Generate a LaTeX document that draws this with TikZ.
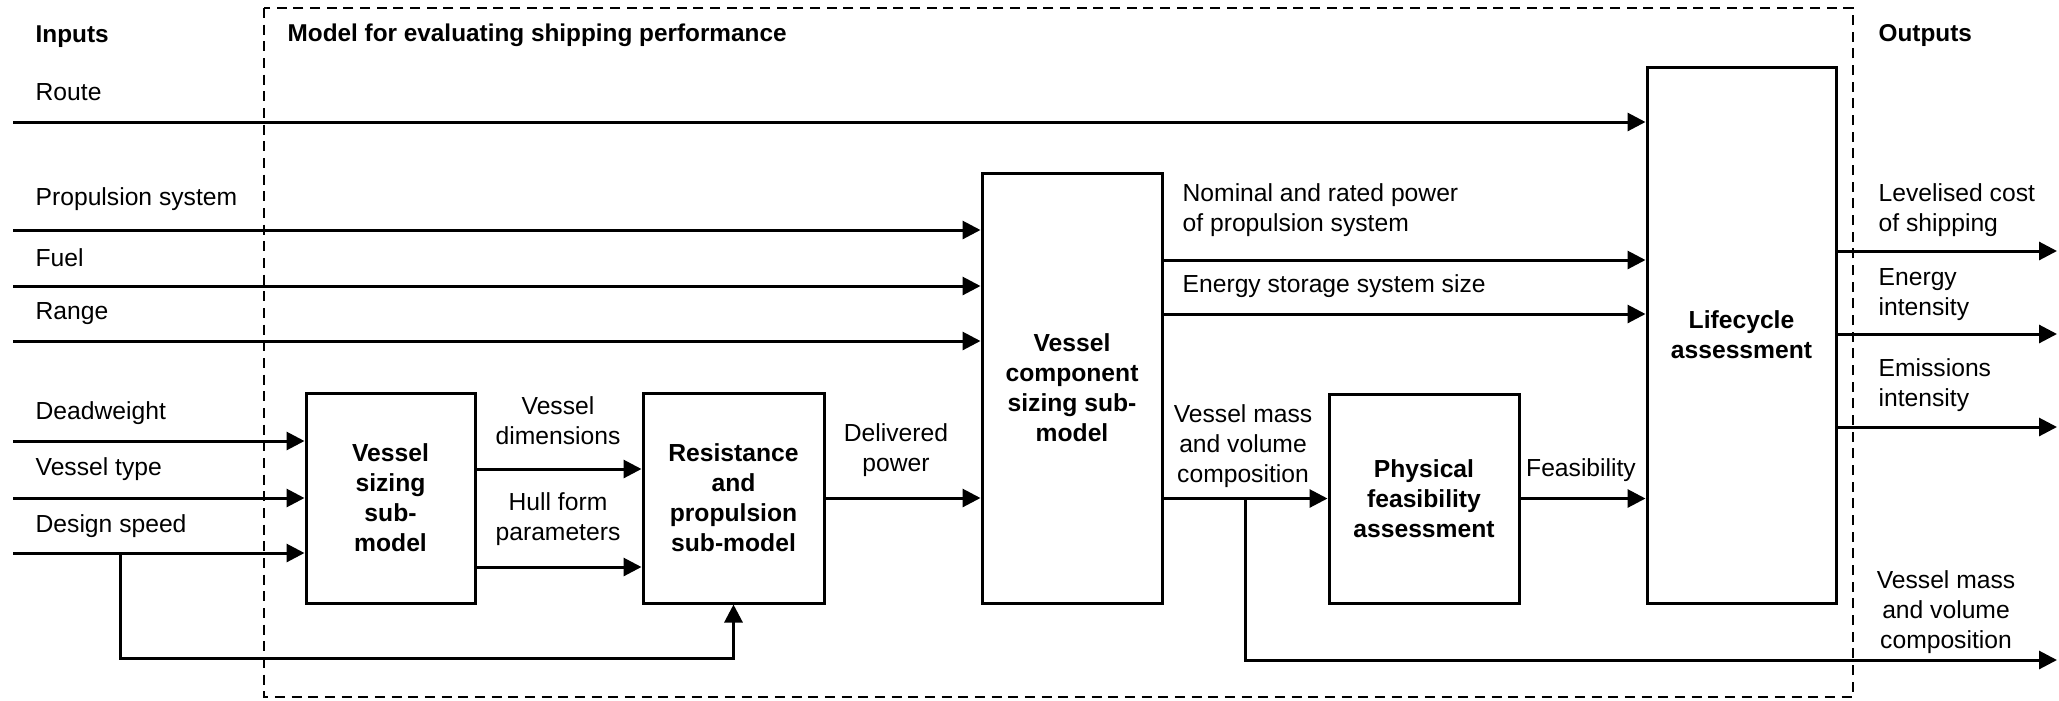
\documentclass[tikz,border=0pt]{standalone}
\usepackage{fontspec}
\setmainfont{Liberation Sans}
\usetikzlibrary{arrows.meta,positioning,calc}

\begin{document}
\begin{tikzpicture}[
    x=0.3pt, y=-0.3pt,
    every node/.style={inner sep=0pt, align=center, font=\fontsize{7.4}{9}\selectfont},
    block/.style={rectangle, draw, line width=0.9pt,
                  font=\fontsize{7.4}{9}\selectfont\bfseries},
    flow/.style={line width=0.9pt, -{Triangle[length=5.4pt,width=5.4pt]}},
    lbl/.style={anchor=west, align=left},
    head/.style={anchor=west, font=\fontsize{7.3}{9}\selectfont\bfseries}]
    \useasboundingbox (0,0) rectangle (2059,700);

    % model frame
    \draw[line width=0.85pt, dash pattern=on 3pt off 2pt] (264,8) rectangle (1853,697);
    \node[head] (inputs) at (35,37) {Inputs};
    \node[head] (modeltitle) at (287,35) {Model for evaluating shipping performance};
    \node[head] (outputs) at (1878,36) {Outputs};

    % blocks
    \node[block, minimum width=50.7pt, minimum height=63pt] (sizing) at (390.5,498) {Vessel\\sizing\\sub-\\model};
    \node[block, minimum width=54.3pt, minimum height=63pt] (resist) at (733.5,498) {Resistance\\and\\propulsion\\sub-model};
    \node[block, minimum width=54pt, minimum height=129pt] (comp) at (1072,388) {Vessel\\component\\sizing sub-\\model};
    \node[block, minimum width=57pt, minimum height=62.7pt] (phys) at (1424,498.5) {Physical\\feasibility\\assessment};
    \node[block, minimum width=56.7pt, minimum height=160.8pt] (life) at (1741.5,335) {Lifecycle\\assessment};

    % inputs
    \coordinate (routein) at (13,122);
    \coordinate (propin) at (13,230);
    \coordinate (fuelin) at (13,286);
    \coordinate (rangein) at (13,341);
    \coordinate (dwtin) at (13,441);
    \coordinate (typein) at (13,498);
    \coordinate (speedin) at (13,553);
    \node[lbl] (routelbl) at (35,92) {Route};
    \node[lbl] (proplbl) at (35,199) {Propulsion system};
    \node[lbl] (fuellbl) at (35,258) {Fuel};
    \node[lbl] (rangelbl) at (35,314) {Range};
    \node[lbl] (dwtlbl) at (35,413) {Deadweight};
    \node[lbl] (typelbl) at (35,469) {Vessel type};
    \node[lbl] (speedlbl) at (35,526) {Design speed};
    \draw[flow] (routein) -- (routein -| life.west);
    \draw[flow] (propin) -- (propin -| comp.west);
    \draw[flow] (fuelin) -- (fuelin -| comp.west);
    \draw[flow] (rangein) -- (rangein -| comp.west);
    \draw[flow] (dwtin) -- (dwtin -| sizing.west);
    \draw[flow] (typein) -- (typein -| sizing.west);
    \draw[flow] (speedin) -- (speedin -| sizing.west);
    \coordinate (tap) at (120,553);
    \draw[flow] (tap) -- (tap |- 0,658) -| (resist.south);

    % between blocks
    \draw[flow] ([yshift=8.7pt]sizing.east) -- ([yshift=8.7pt]resist.west);
    \draw[flow] ([yshift=-20.7pt]sizing.east) -- ([yshift=-20.7pt]resist.west);
    \node (dimslbl) at (558,421) {Vessel\\dimensions};
    \node (hulllbl) at (558,519) {Hull form\\parameters};
    \draw[flow] (resist.east) -- (resist.east -| comp.west);
    \node (powerlbl) at (896,450) {Delivered\\power};
    \draw[flow] (comp.east |- 0,260) -- (life.west |- 0,260);
    \draw[flow] (comp.east |- 0,314) -- (life.west |- 0,314);
    \node[lbl] (ratedlbl) at (1182,210) {Nominal and rated power\\of propulsion system};
    \node[lbl] (esslbl) at (1182,286) {Energy storage system size};
    \draw[flow] (comp.east |- phys.west) -- (phys.west);
    \node (masslbl) at (1243,446) {Vessel mass\\and volume\\composition};
    \draw[flow] (phys.east) -- (phys.east -| life.west);
    \node (feaslbl) at (1581,470) {Feasibility};
    \coordinate (split) at (1245,498.5);

    % outputs
    \coordinate (costout) at (2057,251);
    \coordinate (energyout) at (2057,334);
    \coordinate (emisout) at (2057,427);
    \coordinate (massout) at (2057,660);
    \draw[flow] (costout -| life.east) -- (costout);
    \draw[flow] (energyout -| life.east) -- (energyout);
    \draw[flow] (emisout -| life.east) -- (emisout);
    \draw[flow] (split) |- (massout);
    \node[lbl] (costlbl) at (1878,210) {Levelised cost\\of shipping};
    \node[lbl] (energylbl) at (1878,295) {Energy\\intensity};
    \node[lbl] (emislbl) at (1878,385) {Emissions\\intensity};
    \node (massoutlbl) at (1946,612) {Vessel mass\\and volume\\composition};
\end{tikzpicture}
\end{document}
